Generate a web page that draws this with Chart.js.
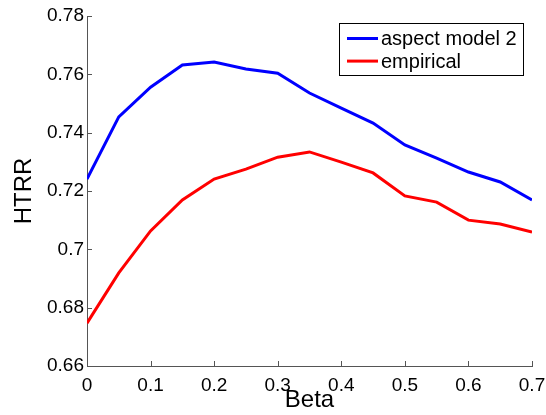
<!DOCTYPE html>
<html>
<head>
<meta charset="utf-8">
<script src="https://cdn.jsdelivr.net/npm/chart.js@4/dist/chart.umd.min.js"></script>
<style>
  html, body { margin: 0; padding: 0; background: #fff; }
  #wrap { width: 546px; height: 415px; }
</style>
</head>
<body>
<div id="wrap"><canvas id="htrr" width="546" height="415"></canvas></div>
<script>
// beta values along x
const betas = [0, 0.05, 0.1, 0.15, 0.2, 0.25, 0.3, 0.35, 0.4, 0.45, 0.5, 0.55, 0.6, 0.65, 0.7];

const aspectModel2 = [0.7241, 0.7454, 0.7556, 0.7632, 0.7642, 0.7618, 0.7604, 0.7536,
                      0.7484, 0.7433, 0.7358, 0.7313, 0.7265, 0.7231, 0.7169];
const empirical    = [0.6747, 0.6919, 0.7063, 0.7169, 0.7241, 0.7275, 0.7316, 0.7334,
                      0.7299, 0.7262, 0.7183, 0.7162, 0.7100, 0.7087, 0.7059];

const xTicks = [0, 0.1, 0.2, 0.3, 0.4, 0.5, 0.6, 0.7];
const yTicks = [0.66, 0.68, 0.7, 0.72, 0.74, 0.76, 0.78];

const FONT = 'Liberation Sans, Arial, Helvetica, sans-serif';
const AXIS_COLOR = '#555';

const toPoints = vals => vals.map((v, i) => ({ x: betas[i], y: v }));
const fmt = v => String(+Number(v).toFixed(2));

// matlab style ticks pointing into the plot
const inwardTicks = {
    id: 'inwardTicks',
    afterDraw(chart) {
        const { ctx, chartArea: a, scales } = chart;
        ctx.save();
        ctx.strokeStyle = AXIS_COLOR;
        ctx.lineWidth = 1;
        ctx.beginPath();
        xTicks.forEach(t => {
            const px = Math.round(scales.x.getPixelForValue(t)) + 0.5;
            ctx.moveTo(px, a.bottom);
            ctx.lineTo(px, a.bottom - 5);
        });
        yTicks.forEach(t => {
            const py = Math.round(scales.y.getPixelForValue(t)) + 0.5;
            ctx.moveTo(a.left, py);
            ctx.lineTo(a.left + 5, py);
        });
        ctx.stroke();
        ctx.restore();
    }
};

// boxed legend in the top right corner
const boxLegend = {
    id: 'boxLegend',
    afterDraw(chart) {
        const ctx = chart.ctx;
        const box = { left: 339.5, top: 23.5, width: 184, height: 52 };
        ctx.save();
        ctx.fillStyle = '#fff';
        ctx.fillRect(box.left, box.top, box.width, box.height);
        ctx.strokeStyle = '#000';
        ctx.lineWidth = 1;
        ctx.strokeRect(box.left, box.top, box.width, box.height);
        ctx.font = '20px ' + FONT;
        ctx.textBaseline = 'middle';
        chart.data.datasets.forEach((ds, i) => {
            const y = 38.5 + i * 22.6;
            ctx.strokeStyle = ds.borderColor;
            ctx.lineWidth = 3;
            ctx.beginPath();
            ctx.moveTo(347, y);
            ctx.lineTo(378, y);
            ctx.stroke();
            ctx.fillStyle = '#000';
            ctx.fillText(ds.label, 381, y + 1);
        });
        ctx.restore();
    }
};

new Chart(document.getElementById('htrr'), {
    type: 'line',
    data: {
        datasets: [
            { label: 'aspect model 2', data: toPoints(aspectModel2), borderColor: '#0000ff' },
            { label: 'empirical',      data: toPoints(empirical),    borderColor: '#ff0000' }
        ]
    },
    options: {
        responsive: false,
        animation: false,
        devicePixelRatio: 1,
        layout: { padding: { top: 16, right: 14, left: 0, bottom: 0 } },
        elements: {
            line: { borderWidth: 3, tension: 0, fill: false },
            point: { radius: 0 }
        },
        plugins: { legend: { display: false }, tooltip: { enabled: false } },
        scales: {
            x: {
                type: 'linear',
                min: 0, max: 0.7,
                afterBuildTicks: s => { s.ticks = xTicks.map(v => ({ value: v })); },
                afterFit: s => { s.height = 49; s.paddingLeft = 0; s.paddingRight = 0; },
                grid: { display: false, drawTicks: false },
                border: { display: true, color: AXIS_COLOR, width: 1 },
                ticks: { color: '#000', font: { family: FONT, size: 19 }, padding: 8, maxRotation: 0, autoSkip: false, callback: fmt },
                title: { display: true, text: 'Beta', color: '#000', font: { family: FONT, size: 24 }, padding: { top: 0, bottom: 0 } }
            },
            y: {
                min: 0.66, max: 0.78,
                afterBuildTicks: s => { s.ticks = yTicks.map(v => ({ value: v })); },
                afterFit: s => { s.width = 87; s.paddingTop = 0; s.paddingBottom = 0; },
                grid: { display: false, drawTicks: false },
                border: { display: true, color: AXIS_COLOR, width: 1 },
                ticks: { color: '#000', font: { family: FONT, size: 19 }, padding: 3, autoSkip: false, callback: fmt },
                title: { display: true, text: 'HTRR', color: '#000', font: { family: FONT, size: 24 }, padding: { top: 10, bottom: 0 } }
            }
        }
    },
    plugins: [inwardTicks, boxLegend]
});
</script>
</body>
</html>
